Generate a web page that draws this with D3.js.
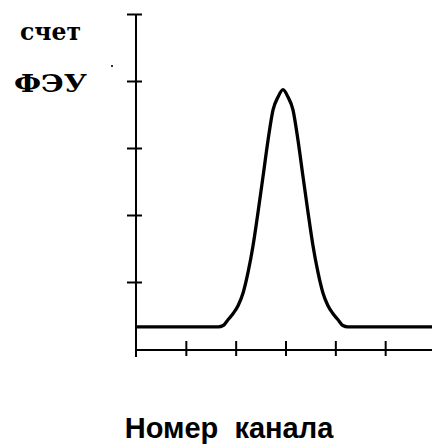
<!DOCTYPE html>
<html>
<head>
<meta charset="utf-8">
<script src="https://cdn.jsdelivr.net/npm/d3@7"></script>
<style>
  html, body { margin: 0; padding: 0; background: #fff; }
  svg { display: block; }
</style>
</head>
<body>
<script>
// ---- data ----
// channel centres
const channels = [0.5,1.5,2.5,3.5,4.5,5.5,6.5,7.5,8.5,9.5,10.5,11.5,12.5,13.5,14.5,15.5,16.5,
                  17.5,18.5,19.5,20.5,21.5,22.5,23.5,24.5,25.5,26.5,27.5,28.5,29.5,30.5,31.5,
                  32.5,33.5,34.5,35.5,36.5,37.5,38.5,39.5,40.5,41.5,42.5,43.5,44.5,45.5,46.5,
                  47.5,48.5,49.5,50.5,51.5,52.5,53.5,54.5,55.5,56.5,57.5,58.5,59.5];
const counts   = [33,33,33,33,33,33,33,33,33,33,33,33,33,33,33,33,33,
                  35,44,53,65,84,115,155,205,258,312,357,376,387,376,357,
                  312,258,205,155,115,84,65,53,44,35,33,33,33,33,33,
                  33,33,33,33,33,33,33,33,33,33,33,33,33];
const xTickValues = [0,10,20,30,40,50,60];
const yTickValues = [100,200,300,400,500];
const yLabelTop = "счет";
const yLabelBottom = "ФЭУ";
const xLabel = "Номер  канала";

const W = 432, H = 445;
const svg = d3.select("body").append("svg").attr("width", W).attr("height", H);

const x = d3.scaleLinear().domain([0, 60]).range([136, 435]);
const y = d3.scaleLinear().domain([0, 500]).range([349, 14]);
const xAxisY = 350;

// y axis: line + ticks crossing both sides
svg.append("line")
  .attr("x1", x(0)).attr("x2", x(0))
  .attr("y1", y(500)).attr("y2", xAxisY + 7)
  .attr("stroke", "#000").attr("stroke-width", 2);

const yl = svg.append("g").attr("transform", `translate(${x(0)},0)`)
  .call(d3.axisLeft(y).tickValues(yTickValues).tickSize(9).tickFormat(""));
const yr = svg.append("g").attr("transform", `translate(${x(0)},0)`)
  .call(d3.axisRight(y).tickValues(yTickValues).tickSize(6).tickFormat(""));
[yl, yr].forEach(g => {
  g.select(".domain").remove();
  g.selectAll(".tick line").attr("stroke", "#000").attr("stroke-width", 2);
});

// x axis: line + ticks crossing both sides
svg.append("line")
  .attr("x1", x(0)).attr("x2", W)
  .attr("y1", xAxisY).attr("y2", xAxisY)
  .attr("stroke", "#000").attr("stroke-width", 2);
const xt = svg.append("g").attr("transform", `translate(0,${xAxisY})`)
  .call(d3.axisTop(x).tickValues(xTickValues.slice(1)).tickSize(9).tickFormat(""));
const xb = svg.append("g").attr("transform", `translate(0,${xAxisY})`)
  .call(d3.axisBottom(x).tickValues(xTickValues.slice(1)).tickSize(6).tickFormat(""));
[xt, xb].forEach(g => {
  g.select(".domain").remove();
  g.selectAll(".tick line").attr("stroke", "#000").attr("stroke-width", 2);
});

// curve
const data = [{c: 0, v: counts[0]}]
  .concat(channels.map((c, i) => ({c, v: counts[i]})))
  .concat([{c: 60, v: counts[counts.length - 1]}]);
const line = d3.line().x(d => x(d.c)).y(d => y(d.v)).curve(d3.curveMonotoneX);
svg.append("path").datum(data)
  .attr("d", line)
  .attr("fill", "none").attr("stroke", "#000").attr("stroke-width", 3.3)
  .attr("stroke-linejoin", "round");

// labels
svg.append("text").attr("x", 20).attr("y", 39.5)
  .attr("font-family", "DejaVu Serif").attr("font-weight", "bold").attr("font-size", 24)
  .attr("textLength", 61).attr("lengthAdjust", "spacingAndGlyphs")
  .attr("fill", "#000").text(yLabelTop);
svg.append("text").attr("x", 14).attr("y", 91.5)
  .attr("font-family", "DejaVu Serif").attr("font-weight", "bold").attr("font-size", 24)
  .attr("textLength", 73).attr("lengthAdjust", "spacingAndGlyphs")
  .attr("fill", "#000").text(yLabelBottom);
svg.append("rect").attr("x", 111).attr("y", 65).attr("width", 2).attr("height", 2).attr("fill", "#333");

svg.append("text").attr("x", 229).attr("y", 438)
  .attr("text-anchor", "middle")
  .attr("font-family", "Liberation Sans, Arial").attr("font-weight", "bold").attr("font-size", 29)
  .style("white-space", "pre")
  .attr("fill", "#000").text(xLabel);
</script>
</body>
</html>
